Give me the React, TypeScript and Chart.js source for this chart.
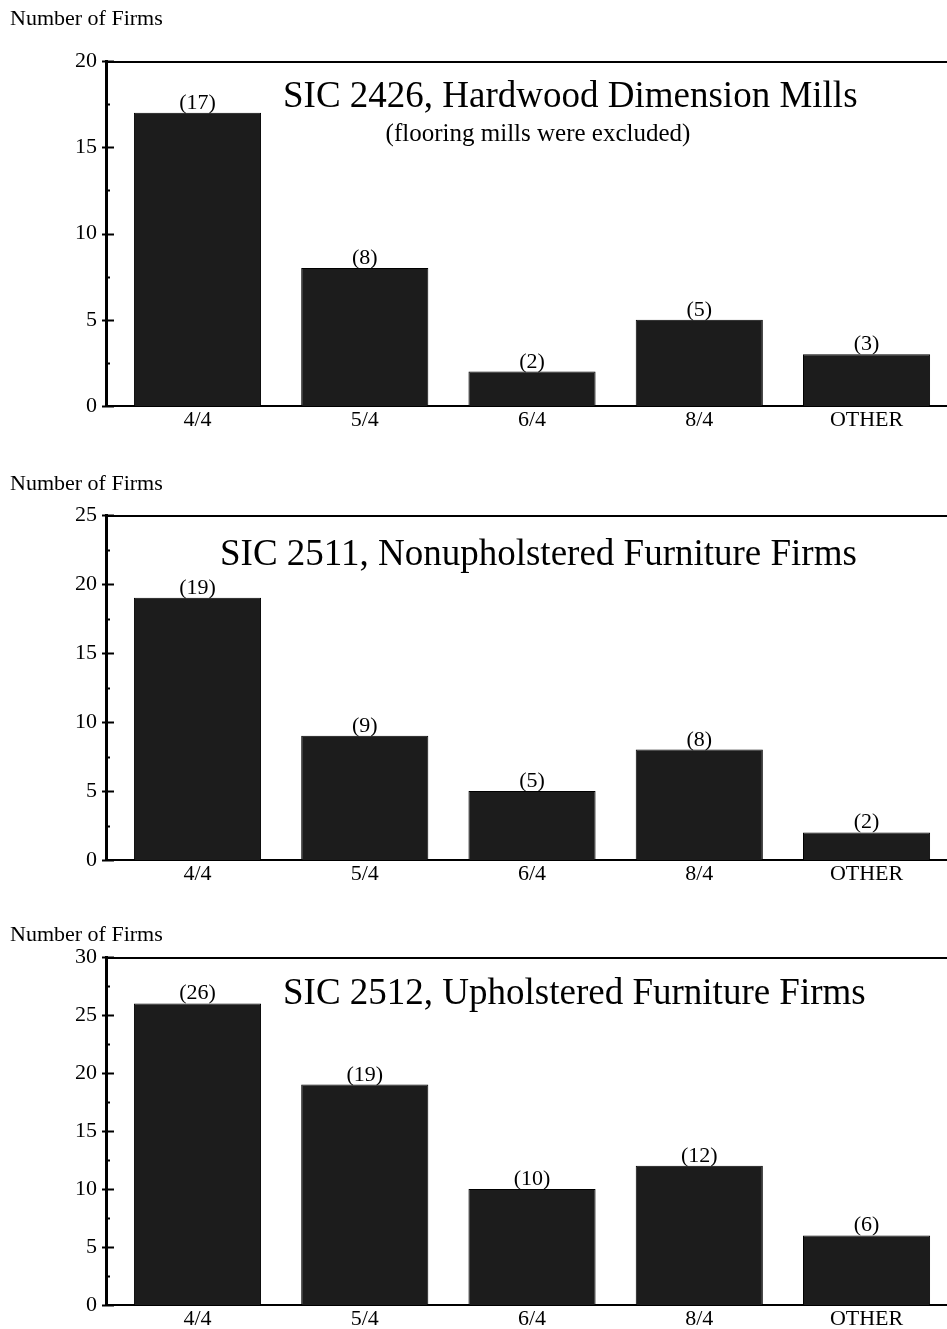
import React, { useEffect, useRef } from 'react';
import { Chart, registerables } from 'chart.js';

Chart.register(...registerables);

// ---- data ----
const categories = ['4/4', '5/4', '6/4', '8/4', 'OTHER'];
const hardwoodFirms = [17, 8, 2, 5, 3];
const nonupholsteredFirms = [19, 9, 5, 8, 2];
const upholsteredFirms = [26, 19, 10, 12, 6];
const yAxisLabel = 'Number of Firms';
const hardwoodTitle = 'SIC 2426, Hardwood Dimension Mills';
const hardwoodSubtitle = '(flooring mills were excluded)';
const nonupholsteredTitle = 'SIC 2511, Nonupholstered Furniture Firms';
const upholsteredTitle = 'SIC 2512, Upholstered Furniture Firms';
const hardwoodYMax = 20;
const nonupholsteredYMax = 25;
const upholsteredYMax = 30;
const majorStep = 5;
const minorStep = 2.5;

// ---- layout / style ----
const FONT = "'Liberation Serif', 'Times New Roman', serif";
const CANVAS_W = 947;
const AXIS_LEFT = 106;
const X_MIN = -0.547;
const X_MAX = 4.481;
const BAR_COLOR = '#1c1c1c';

type PanelCfg = {
  values: number[];
  yMax: number;
  title: string;
  subtitle?: string;
  top: number;
  height: number;
  plotTop: number; // relative to canvas
  plotBottom: number; // relative to canvas
  labelBaseline: number;
  titleX: number;
  titleBaseline: number;
  subX?: number;
  subBaseline?: number;
};

const panels: PanelCfg[] = [
  {
    values: hardwoodFirms, yMax: hardwoodYMax, title: hardwoodTitle, subtitle: hardwoodSubtitle,
    top: 0, height: 450, plotTop: 61, plotBottom: 406, labelBaseline: 25,
    titleX: 283, titleBaseline: 107, subX: 538, subBaseline: 141,
  },
  {
    values: nonupholsteredFirms, yMax: nonupholsteredYMax, title: nonupholsteredTitle,
    top: 450, height: 450, plotTop: 65, plotBottom: 410, labelBaseline: 40,
    titleX: 220, titleBaseline: 115,
  },
  {
    values: upholsteredFirms, yMax: upholsteredYMax, title: upholsteredTitle,
    top: 900, height: 429, plotTop: 57, plotBottom: 405, labelBaseline: 41,
    titleX: 283, titleBaseline: 104,
  },
];

function makeDecor(cfg: PanelCfg) {
  return {
    id: 'decor',
    afterDraw(chart: any) {
      const ctx = chart.ctx as CanvasRenderingContext2D;
      const area = chart.chartArea;
      const y = chart.scales.y;
      ctx.save();
      ctx.strokeStyle = '#000';
      ctx.fillStyle = '#000';
      // top frame line
      ctx.lineWidth = 2;
      ctx.beginPath();
      ctx.moveTo(area.left, area.top + 1);
      ctx.lineTo(area.right, area.top + 1);
      ctx.stroke();
      // inward ticks
      for (let v = 0; v <= cfg.yMax + 1e-9; v += minorStep) {
        const py = Math.round(y.getPixelForValue(v)) + 0.5;
        const major = Math.abs(v / majorStep - Math.round(v / majorStep)) < 1e-9;
        ctx.lineWidth = 2;
        ctx.beginPath();
        ctx.moveTo(area.left - (major ? 4 : 0), py);
        ctx.lineTo(area.left + (major ? 8 : 4), py);
        ctx.stroke();
      }
      // value labels
      ctx.font = `22px ${FONT}`;
      ctx.textAlign = 'center';
      ctx.textBaseline = 'alphabetic';
      const meta = chart.getDatasetMeta(0);
      meta.data.forEach((el: any, i: number) => {
        ctx.fillText(`(${cfg.values[i]})`, el.x, el.y - 4);
      });
      // y axis label
      ctx.textAlign = 'left';
      ctx.font = `22px ${FONT}`;
      ctx.fillText(yAxisLabel, 10, cfg.labelBaseline);
      // title
      ctx.font = `37px ${FONT}`;
      ctx.fillText(cfg.title, cfg.titleX, cfg.titleBaseline);
      if (cfg.subtitle) {
        ctx.textAlign = 'center';
        ctx.font = `25px ${FONT}`;
        ctx.fillText(cfg.subtitle, cfg.subX!, cfg.subBaseline!);
      }
      ctx.restore();
    },
  };
}

function Panel({ cfg }: { cfg: PanelCfg }) {
  const ref = useRef<HTMLCanvasElement>(null);
  useEffect(() => {
    if (!ref.current) return;
    const chart = new Chart(ref.current, {
      type: 'bar',
      data: {
        datasets: [
          {
            data: cfg.values.map((v, i) => ({ x: i, y: v })),
            backgroundColor: BAR_COLOR,
            borderColor: '#000',
            borderWidth: 1,
            categoryPercentage: 0.76,
            barPercentage: 1,
          } as any,
        ],
      },
      options: {
        responsive: false,
        maintainAspectRatio: false,
        animation: false,
        layout: { padding: { top: cfg.plotTop, left: 0, right: 0, bottom: 0 } },
        plugins: {
          legend: { display: false },
          tooltip: { enabled: false },
          title: { display: false },
        },
        scales: {
          x: {
            type: 'linear',
            offset: false,
            min: X_MIN,
            max: X_MAX,
            grid: { display: false, drawTicks: false, offset: false },
            border: { display: true, color: '#000', width: 2 },
            afterBuildTicks: (s: any) => {
              s.ticks = categories.map((_, i) => ({ value: i }));
            },
            afterFit: (s: any) => {
              s.height = cfg.height - cfg.plotBottom;
            },
            ticks: {
              padding: 1,
              color: '#000',
              autoSkip: false,
              maxRotation: 0,
              font: { family: FONT, size: 22 },
              callback: (v: any) => categories[Math.round(Number(v))] ?? '',
            },
          },
          y: {
            min: 0,
            max: cfg.yMax,
            grid: { display: false, drawTicks: false },
            border: { display: true, color: '#000', width: 3 },
            afterFit: (s: any) => {
              s.width = AXIS_LEFT;
            },
            ticks: {
              stepSize: majorStep,
              padding: 9,
              color: '#000',
              font: { family: FONT, size: 22 },
            },
          },
        } as any,
      },
      plugins: [makeDecor(cfg)],
    });
    return () => chart.destroy();
  }, [cfg]);
  return (
    <canvas
      ref={ref}
      width={CANVAS_W}
      height={cfg.height}
      style={{ position: 'absolute', left: 0, top: cfg.top, width: CANVAS_W, height: cfg.height, display: 'block' }}
    />
  );
}

export default function App() {
  return (
    <div style={{ position: 'absolute', left: 0, top: 0, width: 947, height: 1329, background: '#fff', overflow: 'hidden' }}>
      {panels.map((p, i) => (
        <Panel key={i} cfg={p} />
      ))}
    </div>
  );
}
